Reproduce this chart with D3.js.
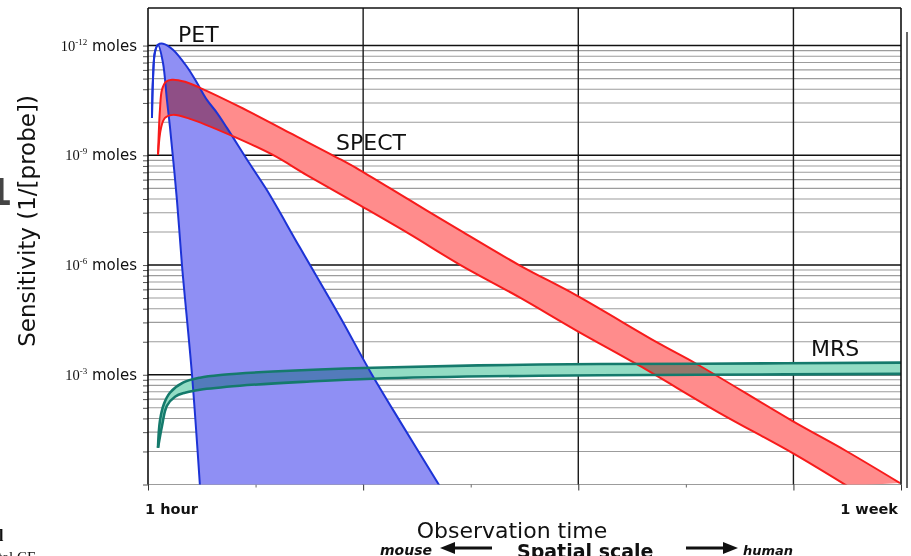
<!DOCTYPE html>
<html lang="en">
<head>
  <meta charset="UTF-8">
  <title>Sensitivity vs observation time</title>
  <script src="https://d3js.org/d3.v7.min.js"></script>
  <style>
    body { margin: 0; background: #fff; overflow: hidden; }
    svg { display: block; font-family: "DejaVu Sans", Verdana, sans-serif; }
  </style>
</head>
<body>
  <svg id="svg1"></svg>
  <script>
    // observation time as an index: 0 = 1 hour ... 7 = 1 week
    const xTickValues = [0, 1, 2, 3, 4, 5, 6, 7];
    const xMajorTicks = [0, 2, 4, 6, 7];
    const xGridTicks = [2, 4, 6];
    const xTickLabels = ['1 hour', '1 week'];
    // relative sensitivity: one axis decade = three decades in moles
    const yMajorTicks = [10, 100, 1000, 10000];
    const yTickExponents = ['-3', '-6', '-9', '-12'];

    // [time index, sensitivity]
    const petUpper = [[0.037, 2190], [0.046, 4880], [0.065, 8790], [0.093, 10190], [0.140, 10400],
      [0.232, 9180], [0.362, 6410], [0.455, 4580], [0.548, 3200], [0.641, 2440], [0.734, 1778],
      [0.947, 832], [1.105, 482], [1.411, 145], [1.783, 34], [2.061, 10.9],
      [2.340, 3.80], [2.711, 0.97]];
    const petLower = [[0.037, 2190], [0.046, 4880], [0.065, 8790], [0.093, 10190], [0.139, 6980],
      [0.176, 3200], [0.204, 1815], [0.269, 390], [0.316, 99], [0.409, 10], [0.483, 0.97]];

    const spectUpper = [[0.093, 1007], [0.111, 2595], [0.130, 3955], [0.167, 4677], [0.223, 4880],
      [0.344, 4677], [0.483, 4123], [0.854, 2763], [1.318, 1600], [1.783, 925], [1.968, 734],
      [2.433, 390], [2.897, 208], [3.454, 99.4], [3.983, 52.9], [4.754, 19.2], [5.097, 12.6],
      [5.989, 3.80], [6.490, 2.02], [6.991, 1.03]];
    const spectLower = [[0.093, 1007], [0.121, 1777], [0.158, 2193], [0.232, 2336], [0.390, 2148],
      [0.761, 1534], [1.161, 1007], [1.476, 661], [1.968, 351], [2.433, 191], [2.897, 101],
      [3.454, 50.7], [3.983, 25.3], [4.568, 12.1], [5.311, 4.5], [5.989, 1.94], [6.500, 0.97]];

    const mrsUpper = [[0.093, 2.16], [0.111, 3.80], [0.149, 5.44], [0.204, 6.86], [0.325, 8.47],
      [0.483, 9.41], [0.696, 10.0], [1.161, 10.7], [2.089, 11.6], [3.640, 12.4], [5.125, 12.6], [7, 12.9]];
    const mrsLower = [[0.093, 2.16], [0.130, 3.42], [0.176, 5.22], [0.251, 6.31], [0.344, 6.86],
      [0.483, 7.31], [0.854, 7.95], [1.476, 8.65], [2.089, 9.21], [3.640, 9.81], [5.125, 10.0], [7, 10.2]];

    const width = 911, height = 556;
    const plot = {left: 148, right: 901, top: 8, bottom: 484.5};

    const svg = d3.select('#svg1')
      .attr('width', width)
      .attr('height', height);

    const x = d3.scaleLinear().domain([0, 7]).range([plot.left, plot.right]);
    const y = d3.scaleLog().domain([1, 2.2e4]).range([plot.bottom, plot.top]);

    svg.append('clipPath').attr('id', 'plotClip')
      .append('rect')
      .attr('x', plot.left).attr('y', plot.top)
      .attr('width', plot.right - plot.left).attr('height', plot.bottom - plot.top);

    // horizontal grid
    const yGrid = y.ticks().filter(v => v <= 10000);
    svg.append('g')
      .selectAll('line')
      .data(yGrid)
      .join('line')
      .attr('x1', plot.left).attr('x2', plot.right)
      .attr('y1', d => y(d)).attr('y2', d => y(d))
      .attr('stroke', d => yMajorTicks.includes(d) ? '#111' : '#9c9c9c')
      .attr('stroke-width', d => yMajorTicks.includes(d) ? 1.6 : 1.1);

    // vertical grid
    svg.append('g')
      .selectAll('line')
      .data(xGridTicks)
      .join('line')
      .attr('x1', d => x(d)).attr('x2', d => x(d))
      .attr('y1', plot.top).attr('y2', plot.bottom)
      .attr('stroke', '#1a1a1a')
      .attr('stroke-width', 1.4);

    // left ticks
    const leftAxis = svg.append('g')
      .attr('transform', `translate(${plot.left}, 0)`)
      .call(d3.axisLeft(y).tickValues(yGrid).tickSize(5).tickFormat(''));
    leftAxis.select('.domain').remove();
    leftAxis.selectAll('line').attr('stroke', '#555');

    // bottom ticks
    const bottomAxis = svg.append('g')
      .attr('transform', `translate(0, ${plot.bottom})`)
      .call(d3.axisBottom(x).tickValues(xMajorTicks).tickSize(6).tickFormat(''));
    bottomAxis.select('.domain').remove();
    bottomAxis.selectAll('line').attr('stroke', '#333');
    const minorAxis = svg.append('g')
      .attr('transform', `translate(0, ${plot.bottom})`)
      .call(d3.axisBottom(x).tickValues(xTickValues.filter(t => !xMajorTicks.includes(t))).tickSize(3).tickFormat(''));
    minorAxis.select('.domain').remove();
    minorAxis.selectAll('line').attr('stroke', '#666');

    // bands
    const line = d3.line()
      .x(d => x(d[0]))
      .y(d => y(d[1]))
      .curve(d3.curveCatmullRom);

    const bands = [
      {upper: petUpper, lower: petLower, fill: '#8f8ff4', stroke: '#1c33d6', width: 2},
      {upper: spectUpper, lower: spectLower, fill: '#ff8c8c', stroke: '#f71b1b', width: 2},
      {upper: mrsUpper, lower: mrsLower, fill: '#93dcc4', stroke: '#157a6c', width: 2.6}
    ];

    const bandGroup = svg.append('g').attr('clip-path', 'url(#plotClip)');
    bands.forEach(b => {
      const top = line(b.upper);
      const back = line(b.lower.slice().reverse());
      bandGroup.append('path')
        .attr('d', top + 'L' + back.slice(1) + 'Z')
        .attr('fill', b.fill)
        .style('mix-blend-mode', 'multiply');
    });
    bands.forEach(b => {
      [b.upper, b.lower].forEach(s => {
        bandGroup.append('path')
          .attr('d', line(s))
          .attr('fill', 'none')
          .attr('stroke', b.stroke)
          .attr('stroke-width', b.width);
      });
    });

    // frame
    const frame = svg.append('g').attr('stroke', '#111').attr('stroke-width', 1.6);
    frame.append('line').attr('x1', plot.left).attr('x2', plot.left).attr('y1', plot.top).attr('y2', plot.bottom);
    frame.append('line').attr('x1', plot.left).attr('x2', plot.right).attr('y1', plot.top).attr('y2', plot.top);
    frame.append('line').attr('x1', plot.right).attr('x2', plot.right).attr('y1', plot.top).attr('y2', plot.bottom);
    svg.append('line')
      .attr('x1', 907).attr('x2', 907).attr('y1', 32).attr('y2', 488)
      .attr('stroke', '#666').attr('stroke-width', 2);

    // y tick labels
    const yLabels = svg.append('g')
      .selectAll('text')
      .data(yMajorTicks)
      .join('text')
      .attr('x', 137)
      .attr('y', d => y(d) + 5)
      .attr('text-anchor', 'end')
      .attr('fill', '#111');
    yLabels.append('tspan')
      .attr('font-family', '"Liberation Serif", serif')
      .attr('font-size', 14.5)
      .text('10');
    yLabels.append('tspan')
      .attr('font-family', '"Liberation Serif", serif')
      .attr('font-size', 9)
      .attr('dy', -6)
      .text((d, i) => yTickExponents[i]);
    yLabels.append('tspan')
      .attr('font-size', 15)
      .attr('dy', 6)
      .text(' moles');

    // x tick labels
    svg.append('text')
      .attr('x', x(0) - 3).attr('y', 514)
      .attr('font-size', 14.5).attr('font-weight', 'bold').attr('fill', '#111')
      .text(xTickLabels[0]);
    svg.append('text')
      .attr('x', x(7) - 3).attr('y', 514)
      .attr('text-anchor', 'end')
      .attr('font-size', 14.5).attr('font-weight', 'bold').attr('fill', '#111')
      .text(xTickLabels[1]);

    // axis titles
    svg.append('text')
      .attr('transform', 'translate(35, 221) rotate(-90)')
      .attr('text-anchor', 'middle')
      .attr('font-size', 23)
      .attr('fill', '#111')
      .text('Sensitivity (1/[probe])');
    svg.append('text')
      .attr('x', 512).attr('y', 538)
      .attr('text-anchor', 'middle')
      .attr('font-size', 22)
      .attr('fill', '#111')
      .text('Observation time');

    // spatial scale row (cut by the page edge, as in the scan)
    svg.append('text')
      .attr('x', 380).attr('y', 555)
      .attr('font-size', 14).attr('font-weight', 'bold').attr('font-style', 'italic').attr('fill', '#111')
      .text('mouse');
    svg.append('text')
      .attr('x', 517).attr('y', 558)
      .attr('font-size', 19).attr('font-weight', 'bold').attr('fill', '#111')
      .text('Spatial scale');
    svg.append('text')
      .attr('x', 743).attr('y', 555)
      .attr('font-size', 13).attr('font-weight', 'bold').attr('font-style', 'italic').attr('fill', '#111')
      .text('human');
    const arrows = svg.append('g').attr('fill', '#111').attr('stroke', '#111');
    arrows.append('line').attr('x1', 452).attr('x2', 492).attr('y1', 548).attr('y2', 548).attr('stroke-width', 3);
    arrows.append('path').attr('d', 'M440,548 L455,542 L455,554 Z').attr('stroke', 'none');
    arrows.append('line').attr('x1', 686).attr('x2', 726).attr('y1', 548).attr('y2', 548).attr('stroke-width', 3);
    arrows.append('path').attr('d', 'M738,548 L723,542 L723,554 Z').attr('stroke', 'none');

    // series labels
    const seriesLabels = [
      {text: 'PET', x: 178, y: 42},
      {text: 'SPECT', x: 336, y: 150},
      {text: 'MRS', x: 811, y: 356}
    ];
    svg.append('g')
      .selectAll('text')
      .data(seriesLabels)
      .join('text')
      .attr('x', d => d.x).attr('y', d => d.y)
      .attr('font-size', 22)
      .attr('fill', '#111')
      .text(d => d.text);

    // neighbouring page fragments at the left edge
    svg.append('text')
      .attr('x', -14).attr('y', 205)
      .attr('font-size', 38).attr('font-weight', 'bold').attr('fill', '#444')
      .text('1');
    svg.append('text')
      .attr('x', -9).attr('y', 541)
      .attr('font-family', '"Liberation Serif", serif')
      .attr('font-size', 16).attr('font-weight', 'bold').attr('fill', '#111')
      .text('al');
    svg.append('text')
      .attr('x', -6).attr('y', 562)
      .attr('font-family', '"Liberation Serif", serif')
      .attr('font-size', 15).attr('fill', '#111')
      .text('ital CF');
  </script>
</body>
</html>
